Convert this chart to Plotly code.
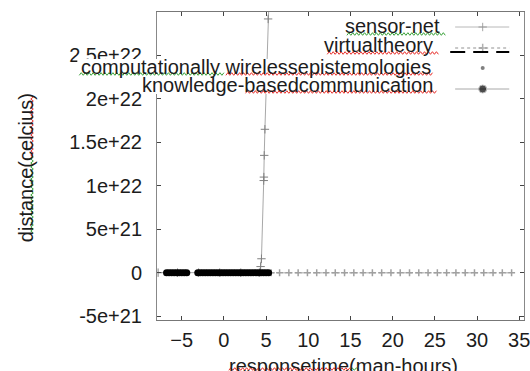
import plotly.graph_objects as go

# ---------------- data ----------------
sensor_x = [-7.8, -5.5, -3.0, -0.5, 2.0, 4.2, 4.35, 4.45, 4.72, 4.74, 4.78, 4.86, 5.24, 5.4]
sensor_y = [0, 0, 0, 0, 0, 0, 7e20, 1.6e21, 1.06e22, 1.1e22, 1.35e22, 1.65e22, 2.92e22, 3.3e22]

virtual_x = [5.6, 6.6, 7.7, 8.8, 9.9, 11.0, 12.1, 13.2, 14.3, 15.4, 16.5, 17.6, 18.7, 19.8,
             20.9, 22.0, 23.1, 24.2, 25.3, 26.4, 27.5, 28.6, 29.7, 30.8, 31.9, 33.0, 34.1]
virtual_y = [0] * len(virtual_x)

comp_x = [-6.5, -5.0, -2.5, -1.0, 0.5, 2.0, 3.5, 5.0]
comp_y = [0, 0, 0, 0, 0, 0, 0, 0]

know_x = [-6.8, -6.5, -6.2, -5.9, -5.6, -5.3, -5.0, -4.7, -4.4, None,
          -3.1, -2.8, -2.5, -2.2, -1.9, -1.6, -1.3, -1.0, -0.7, -0.4, -0.1, 0.2, 0.5,
          0.8, 1.1, 1.4, 1.7, 2.0, 2.3, 2.6, 2.9, 3.2, 3.5, 3.8, 4.1, 4.4, 4.7, 5.0, 5.3]
know_y = [0 if v is not None else None for v in know_x]

x_ticks = [-5, 0, 5, 10, 15, 20, 25, 30, 35]
y_ticks = [-5e21, 0, 5e21, 1e22, 1.5e22, 2e22, 2.5e22]
y_ticktext = ["-5e+21", "0", "5e+21", "1e+22", "1.5e+22", "2e+22", "2.5e+22"]

series_names = ["sensor-net", "virtualtheory", "computationally wirelessepistemologies",
                "knowledge-basedcommunication"]

# ---------------- layout geometry (pixels) ----------------
W, H = 530, 371
L, R, T, B = 157, 530, 12, 320
FONT = "Liberation Sans, Arial, sans-serif"
TXT = "#1c1c1c"


def px(x):
    return (x - L) / (R - L)


def py(y):
    return (B - y) / (B - T)


fig = go.Figure()

fig.add_trace(go.Scatter(x=sensor_x, y=sensor_y, mode="lines+markers",
                         line=dict(color="#a8a8a8", width=1),
                         marker=dict(symbol="cross-thin", size=6, line=dict(color="#808080", width=1)),
                         name=series_names[0], showlegend=False))
fig.add_trace(go.Scatter(x=virtual_x, y=virtual_y, mode="lines+markers",
                         line=dict(color="#c4c4c4", width=1.5, dash="dot"),
                         marker=dict(symbol="cross-thin", size=5, line=dict(color="#a0a0a0", width=1.5)),
                         name=series_names[1], showlegend=False))
fig.add_trace(go.Scatter(x=comp_x, y=comp_y, mode="markers",
                         marker=dict(symbol="circle", size=3, color="#808080"),
                         name=series_names[2], showlegend=False))
fig.add_trace(go.Scatter(x=know_x, y=know_y, mode="lines+markers",
                         line=dict(color="#000000", width=1),
                         marker=dict(symbol="circle", size=7, color="#000000"),
                         name=series_names[3], showlegend=False, connectgaps=False))

# ---------------- gnuplot-style key (pixel overlay axes) ----------------
key_rows = [27, 48, 68, 89]
key_text_y = [26, 45, 67, 85]
key_text_right = [447, 440, 438, 440]
sx0, sxm, sx1 = 460, 488, 515

fig.add_trace(go.Scatter(x=[sx0, sxm, sx1], y=[key_rows[0]] * 3, xaxis="x2", yaxis="y2",
                         mode="lines+markers", line=dict(color="#b8b8b8", width=1),
                         marker=dict(symbol="cross-thin", size=[0, 6, 0], line=dict(color="#808080", width=1)),
                         showlegend=False, hoverinfo="skip"))
fig.add_trace(go.Scatter(x=[sx0, sxm, sx1], y=[key_rows[1]] * 3, xaxis="x2", yaxis="y2",
                         mode="lines+markers", line=dict(color="#c8c8c8", width=2, dash="dot"),
                         marker=dict(symbol="cross-thin", size=[0, 6, 0], line=dict(color="#909090", width=1.5)),
                         showlegend=False, hoverinfo="skip"))
fig.add_trace(go.Scatter(x=[455, 515], y=[key_rows[1] + 4] * 2, xaxis="x2", yaxis="y2",
                         mode="lines", line=dict(color="#000000", width=2, dash="15px,8px"),
                         showlegend=False, hoverinfo="skip"))
fig.add_trace(go.Scatter(x=[sxm], y=[key_rows[2]], xaxis="x2", yaxis="y2",
                         mode="markers", marker=dict(symbol="circle", size=4, color="#808080"),
                         showlegend=False, hoverinfo="skip"))
fig.add_trace(go.Scatter(x=[sx0, sxm, sx1], y=[key_rows[3]] * 3, xaxis="x2", yaxis="y2",
                         mode="lines+markers", line=dict(color="#a8a8a8", width=1),
                         marker=dict(symbol="circle", size=[0, 8, 0], color="#000000"),
                         showlegend=False, hoverinfo="skip"))

annotations = []
for name, ty, tr in zip(series_names, key_text_y, key_text_right):
    annotations.append(dict(text=name, x=px(tr), y=py(ty), xref="paper", yref="paper",
                            xanchor="right", yanchor="middle", showarrow=False,
                            font=dict(family=FONT, size=20, color=TXT)))

annotations.append(dict(text="distance(celcius)", x=px(24), y=py(168), xref="paper", yref="paper",
                        textangle=-90, showarrow=False, xanchor="center", yanchor="middle",
                        font=dict(family=FONT, size=20, color=TXT)))
annotations.append(dict(text="responsetime(man-hours)", x=px(347), y=py(366), xref="paper", yref="paper",
                        showarrow=False, xanchor="center", yanchor="middle",
                        font=dict(family=FONT, size=20, color=TXT)))

shapes = []
# white boxes behind the two lower key rows (they hide tick labels / lines in the original)
for x0, y0, x1, y1 in [(76, 59, 440, 78), (140, 78, 442, 94)]:
    shapes.append(dict(type="rect", xref="paper", yref="paper", x0=px(x0), y0=py(y0), x1=px(x1), y1=py(y1),
                       fillcolor="white", line=dict(width=0), layer="above"))

# spell-check style squiggles
RED, GREEN = "#e8302c", "#3aa23a"
squiggles = [
    (350, 34, 450, 34, GREEN),
    (330, 53, 443, 53, RED),
    (78, 74, 225, 74, GREEN),
    (227, 74, 437, 74, RED),
    (247, 92, 441, 92, RED),
    (30, 233, 30, 157, GREEN),
    (30, 157, 30, 97, RED),
    (230, 369, 353, 369, RED),
    (353, 369, 362, 369, GREEN),
]


def zigzag(x0, y0, x1, y1, amp=1.3, step=2.0):
    vertical = abs(x1 - x0) < abs(y1 - y0)
    n = int(abs((y1 - y0) if vertical else (x1 - x0)) / step)
    pts = []
    for i in range(n + 1):
        t = i / n
        xx = x0 + (x1 - x0) * t
        yy = y0 + (y1 - y0) * t
        off = amp if i % 2 == 0 else -amp
        if vertical:
            xx += off
        else:
            yy += off
        pts.append((px(xx), py(yy)))
    return "M " + " L ".join(f"{a:.5f},{b:.5f}" for a, b in pts)


for x0, y0, x1, y1, c in squiggles:
    shapes.append(dict(type="path", xref="paper", yref="paper", path=zigzag(x0, y0, x1, y1),
                       line=dict(color=c, width=1), layer="above"))

fig.update_layout(
    width=W, height=H,
    margin=dict(l=L, r=W - R, t=T, b=H - B),
    paper_bgcolor="white", plot_bgcolor="white",
    font=dict(family=FONT, size=20, color=TXT),
    xaxis=dict(range=[-7.93, 35.57], tickvals=x_ticks, ticks="inside", ticklen=4,
               tickcolor="#444", showline=True, linecolor="#777", linewidth=1, mirror="ticks",
               showgrid=False, zeroline=False, ticklabelstandoff=2, ticklabeloverflow="allow",
               tickfont=dict(family=FONT, size=20, color=TXT)),
    yaxis=dict(range=[-5.45e21, 3.0e22], tickvals=y_ticks, ticktext=y_ticktext, ticks="inside",
               ticklen=4, tickcolor="#444", showline=True, linecolor="#888", linewidth=1, mirror="ticks",
               showgrid=False, zeroline=False, ticklabelstandoff=10,
               tickfont=dict(family=FONT, size=20, color=TXT)),
    xaxis2=dict(range=[L, R], overlaying="x", visible=False, fixedrange=True),
    yaxis2=dict(range=[B, T], overlaying="y", visible=False, fixedrange=True),
    annotations=annotations,
    shapes=shapes,
    showlegend=False,
)

fig.write_html("out.html")
